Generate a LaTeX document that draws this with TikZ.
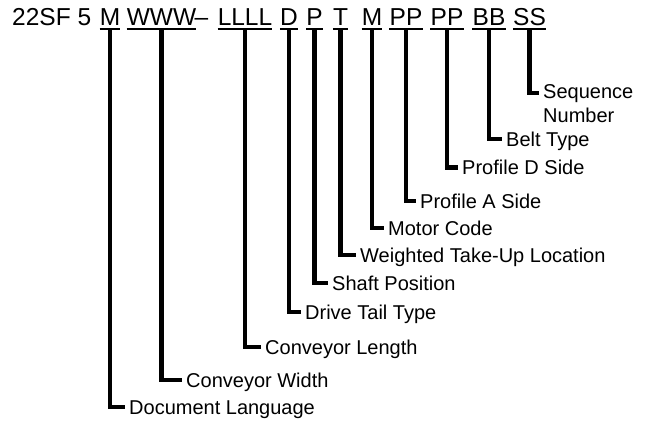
\documentclass[tikz,border=0pt]{standalone}
\usepackage{fontspec}
\setmainfont{Liberation Sans}
\begin{document}
\begin{tikzpicture}[x=1pt,y=-1pt,
  codetxt/.style={font=\fontsize{24.5pt}{29pt}\selectfont, inner sep=0pt, text depth=0pt, anchor=base},
  lab/.style={font=\fontsize{20pt}{24pt}\selectfont, inner xsep=4pt, inner ysep=0pt, text height=14.3pt, text depth=0pt, anchor=west},
  lab2/.style={font=\fontsize{20pt}{24pt}\selectfont, inner xsep=4pt, inner ysep=0pt, anchor=north west, align=left},
  stemline/.style={line width=4.2pt},
  uline/.style={line width=2pt}]
\path[fill=white, use as bounding box] (0,0) rectangle (647,422);
% header
\node[codetxt, anchor=base west] (hdr) at (12,26) {22SF 5};
\node[codetxt] (c1) at (110,26) {M};
\node[codetxt] (c2) at (161.5,26) {WWW};
\node[codetxt] (dash) at (201.5,26) {–};
\node[codetxt] (c3) at (245,26) {LLLL};
\node[codetxt] (c4) at (289,26) {D};
\node[codetxt] (c5) at (314.5,26) {P};
\node[codetxt] (c6) at (340.5,26) {T};
\node[codetxt] (c7) at (372,26) {M};
\node[codetxt] (c8) at (406,26) {PP};
\node[codetxt] (c9) at (447,26) {PP};
\node[codetxt] (c10) at (489,26) {BB};
\node[codetxt] (c11) at (529.5,26) {SS};
\foreach \c in {c1,c2,c3,c4,c5,c6,c7,c8,c9,c10,c11}
  \draw[uline] ([yshift=-2.5pt]\c.south west) -- ([yshift=-2.5pt]\c.south east);
% labels
\node[lab] (l1) at (125,407) {Document Language};
\node[lab] (l2) at (182,380) {Conveyor Width};
\node[lab] (l3) at (261,347) {Conveyor Length};
\node[lab] (l4) at (301,312) {Drive Tail Type};
\node[lab] (l5) at (328,283) {Shaft Position};
\node[lab] (l6) at (356,255) {Weighted Take-Up Location};
\node[lab] (l7) at (384,228) {Motor Code};
\node[lab] (l8) at (416,201) {Profile A Side};
\node[lab] (l9) at (458,167.5) {Profile D Side};
\node[lab] (l10) at (502,139) {Belt Type};
\coordinate (k11) at (539,93);
\node[lab2] (l11) at (539,84.4) {Sequence\\Number};
% connectors
\foreach \i in {1,...,10}
  \draw[stemline] ([yshift=-2.5pt]c\i.south) |- (l\i.west);
\draw[stemline] ([yshift=-2.5pt]c11.south) |- (k11);
\end{tikzpicture}
\end{document}
